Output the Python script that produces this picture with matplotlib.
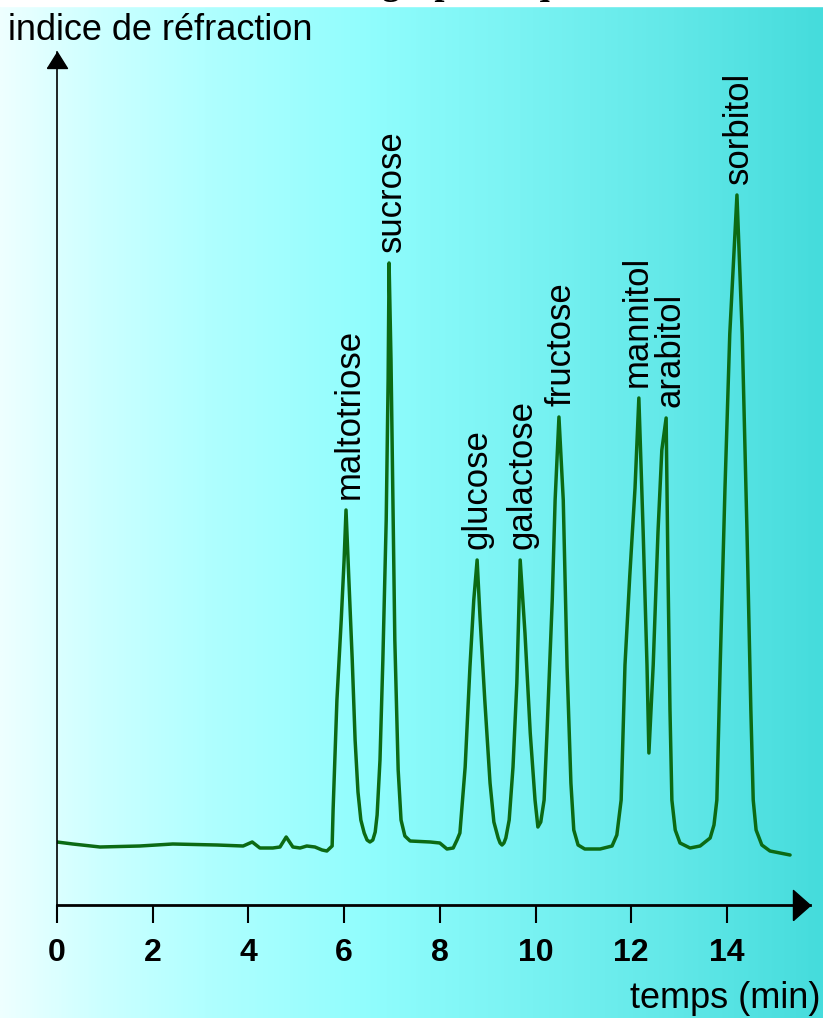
import numpy as np
import matplotlib
matplotlib.use('Agg')
from matplotlib import pyplot as plt
from matplotlib.colors import LinearSegmentedColormap
from matplotlib.path import Path

# chromatogram trace (time in min, refractive index signal in arb. units)
temps = [0.00, 0.33, 0.90, 1.73, 2.42, 3.34, 3.89, 4.08, 4.24, 4.51, 4.66, 4.79, 4.93, 5.08,
         5.22, 5.39, 5.54, 5.64, 5.75, 5.77, 5.85, 5.94, 6.00, 6.04, 6.10, 6.17, 6.23, 6.29,
         6.35, 6.42, 6.48, 6.54, 6.60, 6.65, 6.69, 6.75, 6.81, 6.88, 6.92, 6.94, 6.98, 7.02,
         7.06, 7.13, 7.19, 7.27, 7.38, 7.80, 8.00, 8.15, 8.28, 8.36, 8.42, 8.53, 8.63, 8.71,
         8.78, 8.84, 8.94, 9.05, 9.13, 9.22, 9.26, 9.30, 9.34, 9.38, 9.45, 9.53, 9.61, 9.68,
         9.78, 9.89, 9.99, 10.05, 10.11, 10.18, 10.24, 10.35, 10.41, 10.49, 10.58, 10.66,
         10.74, 10.80, 10.89, 11.03, 11.35, 11.60, 11.70, 11.79, 11.87, 11.97, 12.08, 12.16,
         12.25, 12.33, 12.37, 12.46, 12.56, 12.64, 12.73, 12.77, 12.81, 12.85, 12.92, 13.02,
         13.23, 13.44, 13.65, 13.73, 13.79, 13.86, 13.96, 14.06, 14.21, 14.32, 14.42, 14.50,
         14.55, 14.61, 14.73, 14.90, 15.11, 15.32]
signal = [0.63, 0.61, 0.58, 0.59, 0.61, 0.60, 0.59, 0.63, 0.57, 0.57, 0.58, 0.68, 0.58, 0.57,
          0.59, 0.58, 0.55, 0.54, 0.59, 0.95, 2.05, 2.85, 3.45, 3.95, 3.25, 2.45, 1.65, 1.13,
          0.85, 0.72, 0.65, 0.63, 0.65, 0.73, 0.90, 1.45, 2.45, 3.85, 5.25, 6.42, 5.45, 4.05,
          2.65, 1.35, 0.85, 0.69, 0.64, 0.63, 0.62, 0.56, 0.57, 0.65, 0.72, 1.38, 2.38, 3.05,
          3.45, 2.88, 2.05, 1.22, 0.83, 0.67, 0.62, 0.60, 0.62, 0.67, 0.85, 1.38, 2.22, 3.45,
          2.72, 1.72, 1.05, 0.78, 0.83, 1.05, 1.72, 3.05, 4.05, 4.88, 4.05, 2.38,
          1.22, 0.75, 0.60, 0.56, 0.56, 0.59, 0.70, 1.05, 2.40, 3.29, 4.17, 5.07,
          3.73, 2.40, 1.52, 2.40, 3.73, 4.55, 4.87, 3.29, 1.96, 1.05, 0.75, 0.62,
          0.57, 0.59, 0.67, 0.80, 1.05, 2.40, 4.17, 5.71, 7.10, 5.71, 3.73, 1.96,
          1.05, 0.75, 0.60, 0.54, 0.52, 0.50]

# peak labels
composes = ['maltotriose', 'sucrose', 'glucose', 'galactose', 'fructose',
            'mannitol', 'arabitol', 'sorbitol']
t_pics = [6.04, 6.94, 8.78, 9.68, 10.49, 12.16, 12.73, 14.21]
h_pics = [3.95, 6.42, 3.45, 3.45, 4.88, 5.07, 4.87, 7.10]
dx_pics = [2, 2, 0, 1, 1.5, -1.5, 3, 1]

x_ticks = [0, 2, 4, 6, 8, 10, 12, 14]

W, H = 823, 1018
fig = plt.figure(figsize=(W / 100, H / 100), dpi=100)

# background: white to cyan gradient
bg = fig.add_axes([0, 0, 1, 1], zorder=-1)
cmap = LinearSegmentedColormap.from_list('fond', [
    (0.0, '#eeffff'), (0.12, '#ccffff'), (0.25, '#b0ffff'), (0.45, '#90fdfd'),
    (0.65, '#78f2f2'), (0.82, '#62e8e8'), (1.0, '#45dcdc')])
grad = np.tile(np.linspace(0, 1, 400), (200, 1))
bg.imshow(grad, cmap=cmap, aspect='auto', extent=[0, 1, 0, 1])
bg.axvspan(0, 1, ymin=1 - 6 / H, ymax=1, color='white')
bg.set_xlim(0, 1)
bg.set_ylim(0, 1)
bg.axis('off')

x0, x1 = 57, 810
y0, y1 = 905, 52
ax = fig.add_axes([x0 / W, 1 - y0 / H, (x1 - x0) / W, (y0 - y1) / H])
ax.patch.set_alpha(0)
ax.set_xlim(0, (x1 - x0) / 47.85)
ax.set_ylim(0, (y0 - y1) / 100)

ax.plot(temps, signal, color='#0c6a14', lw=2.5, solid_joinstyle='round', solid_capstyle='round')

for nom, t, h, dx in zip(composes, t_pics, h_pics, dx_pics):
    ax.annotate(nom, xy=(t, h), xytext=(dx, 8), textcoords='offset points',
                rotation=90, ha='center', va='bottom', fontsize=25,
                family='Liberation Sans', color='black')

for s in ['top', 'right']:
    ax.spines[s].set_visible(False)
ax.spines['bottom'].set_linewidth(2.0)
ax.spines['left'].set_linewidth(1.2)
ax.set_xticks(x_ticks)
ax.set_xticklabels([str(v) for v in x_ticks], fontsize=23, fontweight='bold',
                   family=['Liberation Sans Narrow', 'Liberation Sans'])
ax.tick_params(axis='x', direction='out', length=13, width=1.5, pad=11)
ax.set_yticks([])

# arrow heads
head_x = Path([(-17, -15), (0, 0), (-17, 15), (-17, -15)])
head_y = Path([(-10, -16), (0, 0), (10, -16), (-10, -16)])
ax.plot([1], [0], marker=head_x, ms=24.5, color='black', transform=ax.transAxes, clip_on=False)
ax.plot([0], [1], marker=head_y, ms=23, color='black', transform=ax.transAxes, clip_on=False)

fig.text(8 / W, 1 - 30 / H, 'indice de réfraction', fontsize=26, family='Liberation Sans',
         ha='left', va='center')
fig.text(820 / W, 1 - 998 / H, 'temps (min)', fontsize=26, family='Liberation Sans',
         ha='right', va='center')
# title cut off by the top edge
fig.text(420 / W, 1 + 6 / H, 'Chromatographie liquide', fontsize=26, fontweight='bold',
         family='Liberation Serif', ha='center', va='baseline')

fig.savefig('out.png', dpi=100)
